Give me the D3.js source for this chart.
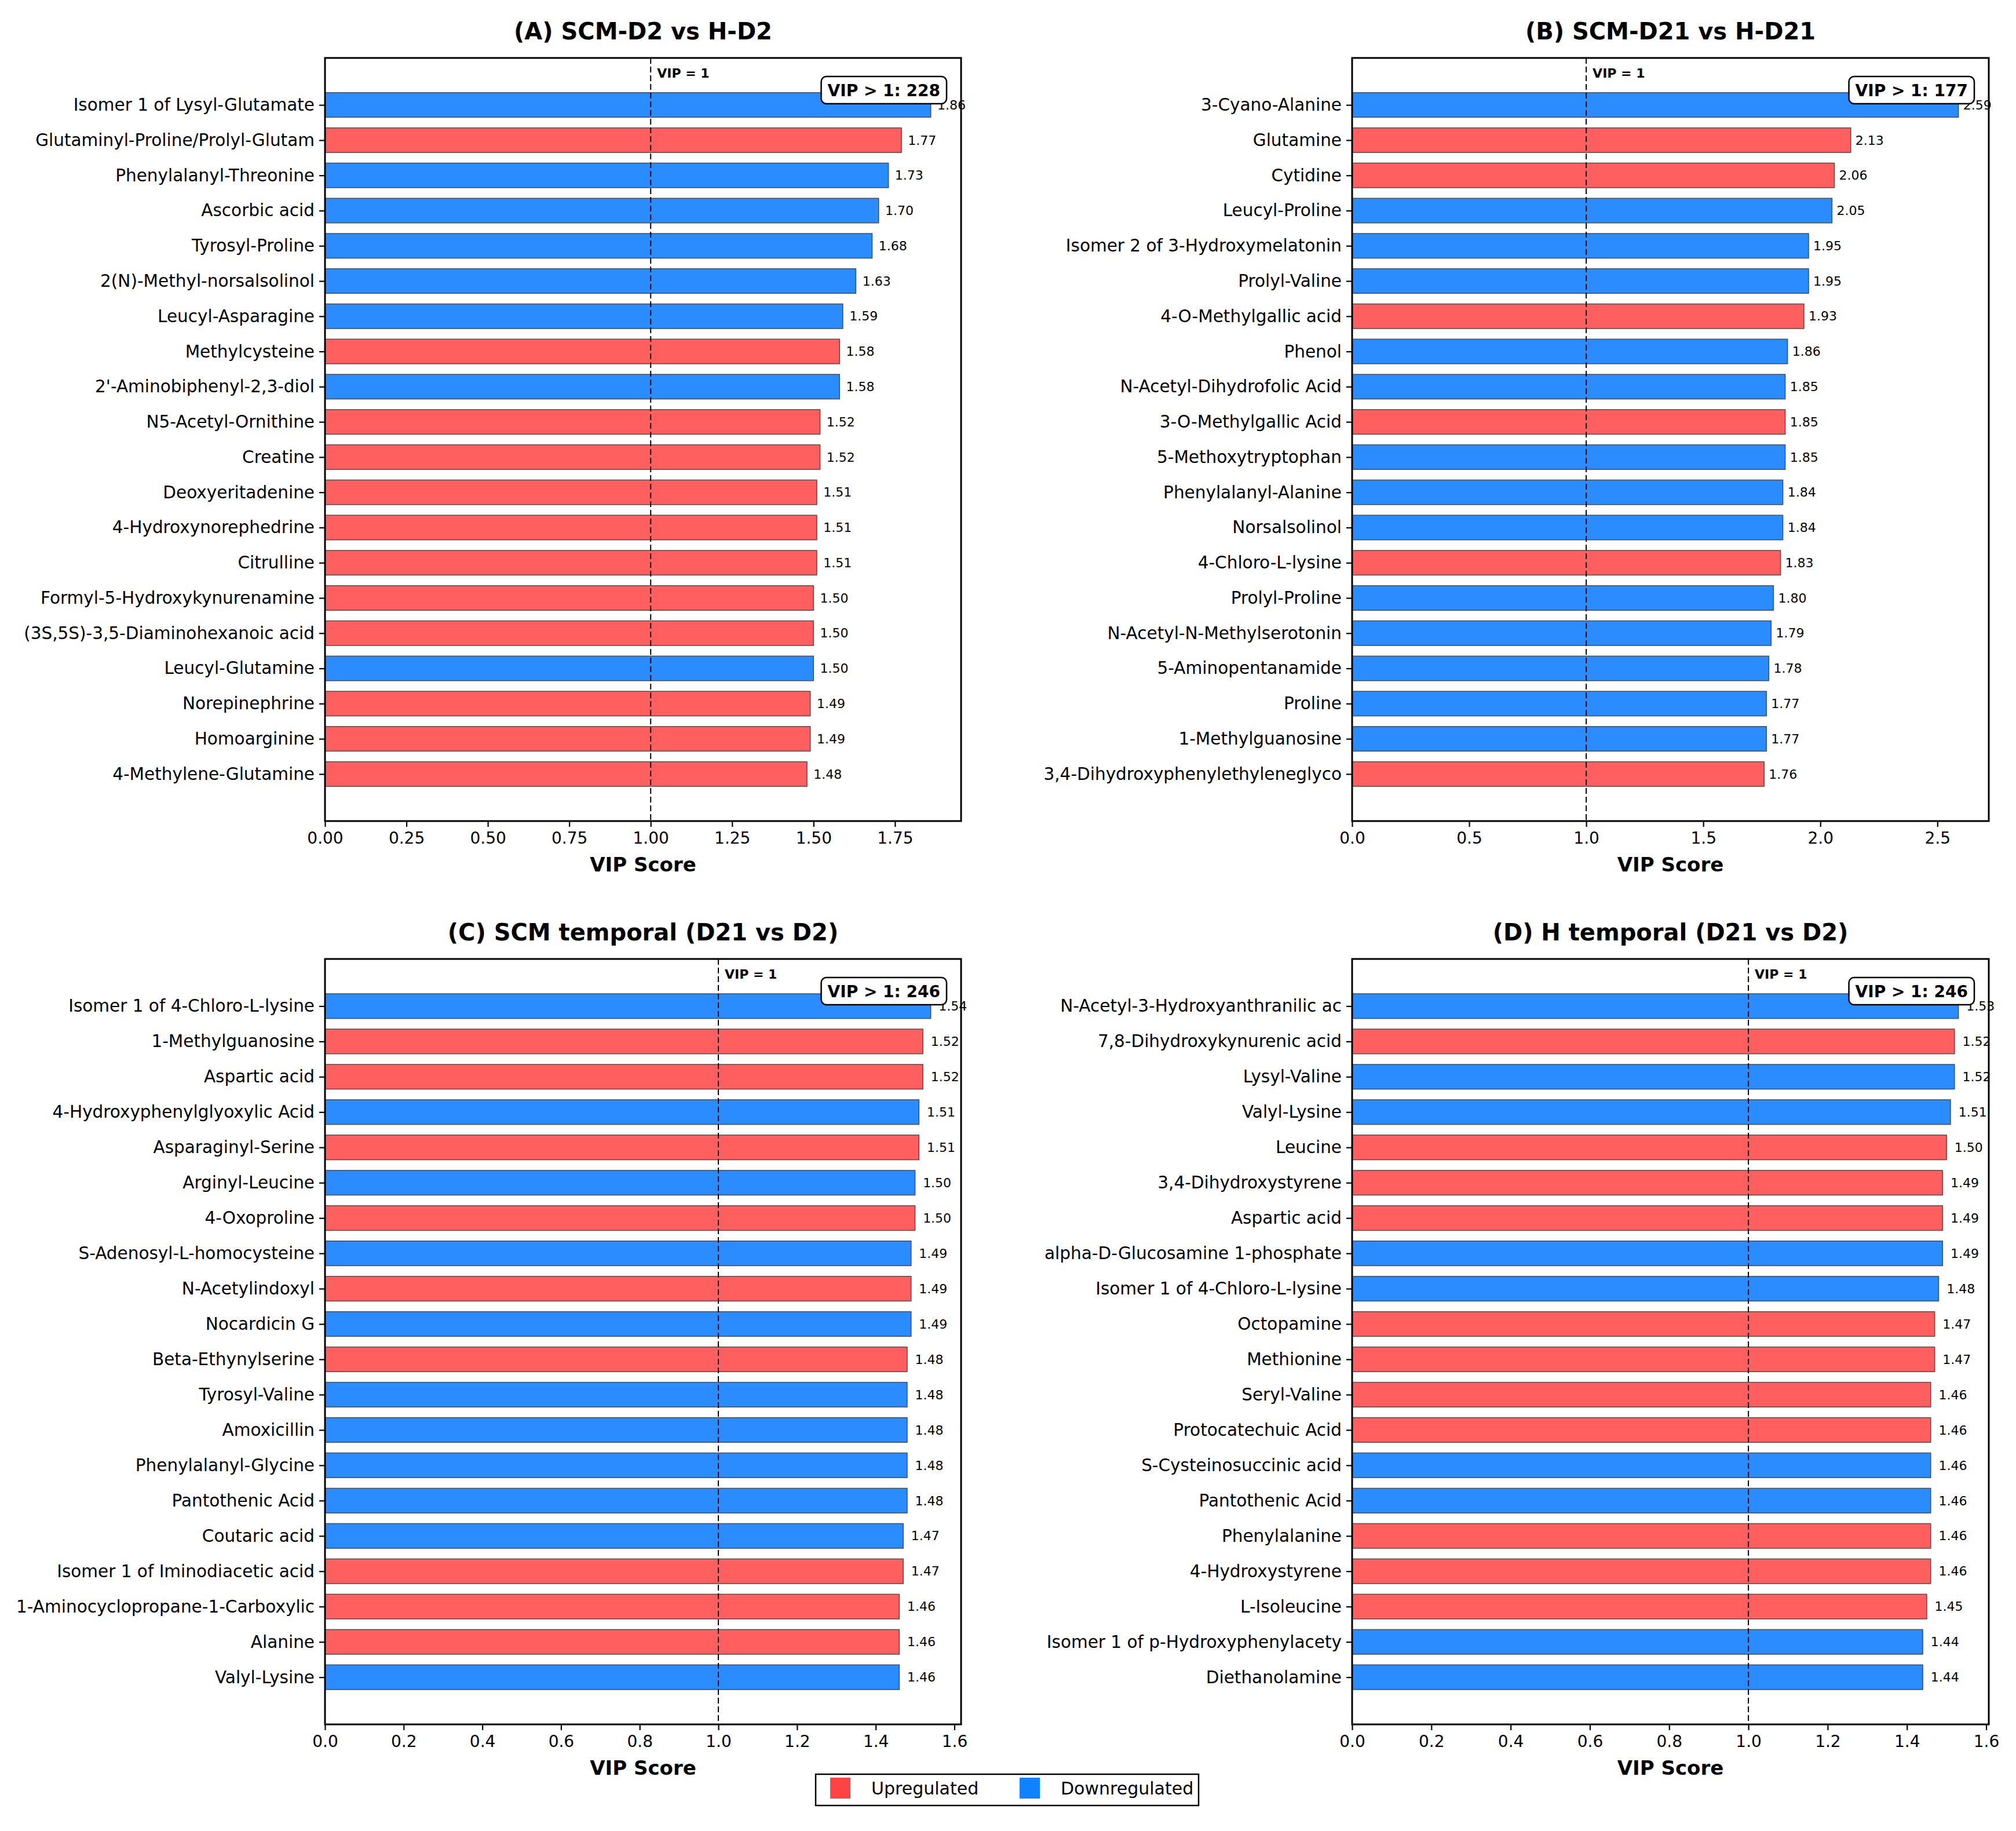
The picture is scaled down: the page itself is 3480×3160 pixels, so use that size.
<!DOCTYPE html>
<html>
<head>
<meta charset="utf-8">
<script src="https://cdn.jsdelivr.net/npm/d3@7"></script>
<style>
  body { margin: 0; background: #fff; }
  svg { display: block; font-family: "DejaVu Sans", sans-serif; }
</style>
</head>
<body>
<div id="chart"></div>
<script>
// ---- data ----
var namesA = ['Isomer 1 of Lysyl-Glutamate', 'Glutaminyl-Proline/Prolyl-Glutam', 'Phenylalanyl-Threonine', 'Ascorbic acid',
  'Tyrosyl-Proline', '2(N)-Methyl-norsalsolinol', 'Leucyl-Asparagine', 'Methylcysteine', "2'-Aminobiphenyl-2,3-diol",
  'N5-Acetyl-Ornithine', 'Creatine', 'Deoxyeritadenine', '4-Hydroxynorephedrine', 'Citrulline',
  'Formyl-5-Hydroxykynurenamine', '(3S,5S)-3,5-Diaminohexanoic acid', 'Leucyl-Glutamine', 'Norepinephrine',
  'Homoarginine', '4-Methylene-Glutamine'];
var vipA = [1.86, 1.77, 1.73, 1.70, 1.68, 1.63, 1.59, 1.58, 1.58, 1.52, 1.52, 1.51, 1.51, 1.51, 1.50, 1.50, 1.50, 1.49, 1.49, 1.48];
var regA = ['down', 'up', 'down', 'down', 'down', 'down', 'down', 'up', 'down', 'up', 'up', 'up', 'up', 'up', 'up', 'up', 'down', 'up', 'up', 'up'];

var namesB = ['3-Cyano-Alanine', 'Glutamine', 'Cytidine', 'Leucyl-Proline', 'Isomer 2 of 3-Hydroxymelatonin', 'Prolyl-Valine',
  '4-O-Methylgallic acid', 'Phenol', 'N-Acetyl-Dihydrofolic Acid', '3-O-Methylgallic Acid', '5-Methoxytryptophan',
  'Phenylalanyl-Alanine', 'Norsalsolinol', '4-Chloro-L-lysine', 'Prolyl-Proline', 'N-Acetyl-N-Methylserotonin',
  '5-Aminopentanamide', 'Proline', '1-Methylguanosine', '3,4-Dihydroxyphenylethyleneglyco'];
var vipB = [2.59, 2.13, 2.06, 2.05, 1.95, 1.95, 1.93, 1.86, 1.85, 1.85, 1.85, 1.84, 1.84, 1.83, 1.80, 1.79, 1.78, 1.77, 1.77, 1.76];
var regB = ['down', 'up', 'up', 'down', 'down', 'down', 'up', 'down', 'down', 'up', 'down', 'down', 'down', 'up', 'down', 'down', 'down', 'down', 'down', 'up'];

var namesC = ['Isomer 1 of 4-Chloro-L-lysine', '1-Methylguanosine', 'Aspartic acid', '4-Hydroxyphenylglyoxylic Acid',
  'Asparaginyl-Serine', 'Arginyl-Leucine', '4-Oxoproline', 'S-Adenosyl-L-homocysteine', 'N-Acetylindoxyl', 'Nocardicin G',
  'Beta-Ethynylserine', 'Tyrosyl-Valine', 'Amoxicillin', 'Phenylalanyl-Glycine', 'Pantothenic Acid', 'Coutaric acid',
  'Isomer 1 of Iminodiacetic acid', '1-Aminocyclopropane-1-Carboxylic', 'Alanine', 'Valyl-Lysine'];
var vipC = [1.54, 1.52, 1.52, 1.51, 1.51, 1.50, 1.50, 1.49, 1.49, 1.49, 1.48, 1.48, 1.48, 1.48, 1.48, 1.47, 1.47, 1.46, 1.46, 1.46];
var regC = ['down', 'up', 'up', 'down', 'up', 'down', 'up', 'down', 'up', 'down', 'up', 'down', 'down', 'down', 'down', 'down', 'up', 'up', 'up', 'down'];

var namesD = ['N-Acetyl-3-Hydroxyanthranilic ac', '7,8-Dihydroxykynurenic acid', 'Lysyl-Valine', 'Valyl-Lysine', 'Leucine',
  '3,4-Dihydroxystyrene', 'Aspartic acid', 'alpha-D-Glucosamine 1-phosphate', 'Isomer 1 of 4-Chloro-L-lysine', 'Octopamine',
  'Methionine', 'Seryl-Valine', 'Protocatechuic Acid', 'S-Cysteinosuccinic acid', 'Pantothenic Acid', 'Phenylalanine',
  '4-Hydroxystyrene', 'L-Isoleucine', 'Isomer 1 of p-Hydroxyphenylacety', 'Diethanolamine'];
var vipD = [1.53, 1.52, 1.52, 1.51, 1.50, 1.49, 1.49, 1.49, 1.48, 1.47, 1.47, 1.46, 1.46, 1.46, 1.46, 1.46, 1.46, 1.45, 1.44, 1.44];
var regD = ['down', 'up', 'down', 'down', 'up', 'up', 'up', 'down', 'down', 'up', 'up', 'up', 'up', 'down', 'down', 'up', 'up', 'up', 'down', 'down'];

var titles = ['(A) SCM-D2 vs H-D2', '(B) SCM-D21 vs H-D21', '(C) SCM temporal (D21 vs D2)', '(D) H temporal (D21 vs D2)'];
var counts = [228, 177, 246, 246];
var ticksA = [0, 0.25, 0.5, 0.75, 1, 1.25, 1.5, 1.75];
var ticksB = [0, 0.5, 1, 1.5, 2, 2.5];
var ticksCD = [0, 0.2, 0.4, 0.6, 0.8, 1.0, 1.2, 1.4, 1.6];
var legendLabels = ['Upregulated', 'Downregulated'];

// colours
var barColor = { 'up': '#ff5f5f', 'down': '#2b8cff' };
var legendColor = { 'up': '#ff4343', 'down': '#0f82ff' };

var W = 3480, H = 3160;
var svg = d3.select('#chart').append('svg')
  .attr('width', W)
  .attr('height', H);
svg.append('rect').attr('width', W).attr('height', H).attr('fill', '#fff');

// axes boxes
var panels = [
  { names: namesA, vip: vipA, reg: regA, ticks: ticksA, fmt: d3.format('.2f'), left: 561, right: 1659, top: 100, bottom: 1417 },
  { names: namesB, vip: vipB, reg: regB, ticks: ticksB, fmt: d3.format('.1f'), left: 2334, right: 3433, top: 100, bottom: 1417 },
  { names: namesC, vip: vipC, reg: regC, ticks: ticksCD, fmt: d3.format('.1f'), left: 561, right: 1659, top: 1655, bottom: 2976 },
  { names: namesD, vip: vipD, reg: regD, ticks: ticksCD, fmt: d3.format('.1f'), left: 2334, right: 3433, top: 1655, bottom: 2976 }
];

panels.forEach(function(p, k) {
  var n = p.names.length;
  var g = svg.append('g');

  var x = d3.scaleLinear()
    .domain([0, d3.max(p.vip) * 1.05])
    .range([p.left, p.right]);
  // barh with height 0.7 and 5% margins, first item on top
  var pad = 0.35 + 0.05 * (n - 1 + 0.7);
  var y = d3.scaleLinear()
    .domain([-pad, n - 1 + pad])
    .range([p.top, p.bottom]);

  // bars
  g.selectAll('rect.bar')
    .data(p.vip)
    .enter().append('rect')
    .attr('class', 'bar')
    .attr('x', x(0))
    .attr('y', function(d, i) { return y(i - 0.35); })
    .attr('width', function(d) { return x(d) - x(0); })
    .attr('height', y(0.7) - y(0))
    .attr('fill', function(d, i) { return barColor[p.reg[i]]; })
    .attr('stroke', '#333')
    .attr('stroke-opacity', 0.8)
    .attr('stroke-width', 1.5);

  // VIP = 1 line
  g.append('line')
    .attr('x1', x(1)).attr('x2', x(1))
    .attr('y1', p.top).attr('y2', p.bottom)
    .attr('stroke', '#000')
    .attr('stroke-width', 2)
    .attr('stroke-dasharray', '10,5');
  g.append('text')
    .attr('x', x(1) + 11)
    .attr('y', p.top + 34)
    .attr('font-size', 22)
    .attr('font-weight', 'bold')
    .text('VIP = 1');

  // value labels
  g.selectAll('text.val')
    .data(p.vip)
    .enter().append('text')
    .attr('class', 'val')
    .attr('x', function(d) { return x(d + 0.02); })
    .attr('y', function(d, i) { return y(i); })
    .attr('dy', '0.35em')
    .attr('font-size', 22)
    .text(function(d) { return d.toFixed(2); });

  // axes
  var xAxis = d3.axisBottom(x).tickValues(p.ticks).tickFormat(p.fmt).tickSize(10).tickPadding(9);
  var yAxis = d3.axisLeft(y).tickValues(d3.range(n)).tickFormat(function(i) { return p.names[i]; }).tickSize(10).tickPadding(8);

  var gx = g.append('g')
    .attr('transform', 'translate(0,' + p.bottom + ')')
    .call(xAxis);
  var gy = g.append('g')
    .attr('transform', 'translate(' + p.left + ',0)')
    .call(yAxis);
  [gx, gy].forEach(function(a) {
    a.select('.domain').remove();
    a.selectAll('.tick line').attr('stroke', '#000').attr('stroke-width', 2.2);
    a.selectAll('.tick text').attr('fill', '#000').attr('font-family', '"DejaVu Sans", sans-serif');
  });
  gx.selectAll('.tick text').attr('font-size', 28);
  gy.selectAll('.tick text').attr('font-size', 29.5);

  // frame
  g.append('rect')
    .attr('x', p.left).attr('y', p.top)
    .attr('width', p.right - p.left).attr('height', p.bottom - p.top)
    .attr('fill', 'none')
    .attr('stroke', '#000')
    .attr('stroke-width', 3);

  // count box, on top of everything
  var bx = g.append('g');
  var bt = bx.append('text')
    .attr('x', p.right - 36)
    .attr('y', p.top + 66)
    .attr('text-anchor', 'end')
    .attr('font-size', 28)
    .attr('font-weight', 'bold')
    .text('VIP > 1: ' + counts[k]);
  var bb = bt.node().getBBox();
  bx.insert('rect', 'text')
    .attr('x', bb.x - 11).attr('y', p.top + 32)
    .attr('width', bb.width + 22).attr('height', 47)
    .attr('rx', 9)
    .attr('fill', '#fff')
    .attr('stroke', '#000')
    .attr('stroke-width', 2.5);

  // title and axis label
  g.append('text')
    .attr('x', (p.left + p.right) / 2)
    .attr('y', p.top - 32)
    .attr('text-anchor', 'middle')
    .attr('font-size', 40)
    .attr('font-weight', 'bold')
    .text(titles[k]);
  g.append('text')
    .attr('x', (p.left + p.right) / 2)
    .attr('y', p.bottom + 87)
    .attr('text-anchor', 'middle')
    .attr('font-size', 34)
    .attr('font-weight', 'bold')
    .text('VIP Score');
});

// legend
var lg = svg.append('g');
lg.append('rect')
  .attr('x', 1408).attr('y', 3062)
  .attr('width', 661).attr('height', 54)
  .attr('fill', '#fff')
  .attr('stroke', '#000')
  .attr('stroke-width', 2.5);
var legendX = [1433, 1760];
['up', 'down'].forEach(function(key, i) {
  lg.append('rect')
    .attr('x', legendX[i]).attr('y', 3068)
    .attr('width', 35).attr('height', 36)
    .attr('fill', legendColor[key]);
  lg.append('text')
    .attr('x', legendX[i] + 71)
    .attr('y', 3086)
    .attr('dy', '0.35em')
    .attr('font-size', 30)
    .text(legendLabels[i]);
});
</script>
</body>
</html>
